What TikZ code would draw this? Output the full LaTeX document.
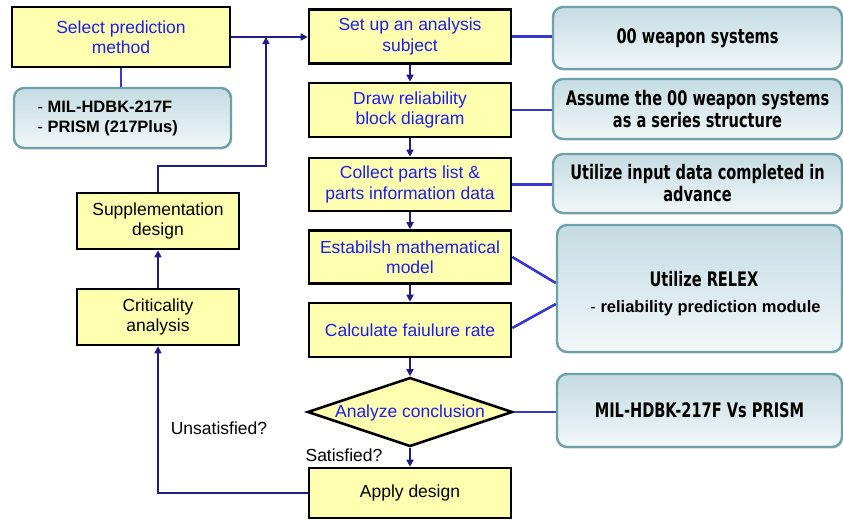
\documentclass[tikz,border=0pt]{standalone}
\usepackage{fontspec}
\setmainfont{Liberation Sans}
\newfontfamily\headfont{DejaVu Sans Condensed}[FakeStretch=0.81]
\usetikzlibrary{arrows.meta,shapes.geometric,shadows}

\definecolor{boxfill}{RGB}{255,255,176}
\definecolor{steptext}{RGB}{30,30,235}
\definecolor{flowline}{RGB}{30,30,130}
\definecolor{linkline}{RGB}{55,55,205}
\definecolor{panelborder}{RGB}{110,160,170}
\definecolor{paneltop}{RGB}{196,220,226}
\definecolor{panelbottom}{RGB}{242,247,248}

\begin{document}
\begin{tikzpicture}[x=1pt,y=-1pt,
  stepbox/.style={draw=black, line width=2.6pt, fill=boxfill, align=center,
    inner sep=0pt, font=\fontsize{17.5}{20.5}\selectfont},
  bluetext/.style={text=steptext},
  decision/.style={diamond, draw=black, line width=2.6pt, fill=boxfill, inner sep=0pt},
  panel/.style={draw=panelborder, line width=2.4pt, rounded corners=10pt,
    top color=paneltop, bottom color=panelbottom, align=center,
    font=\headfont\bfseries\fontsize{20}{22}\selectfont,
    drop shadow={shadow xshift=1pt, shadow yshift=-1.5pt, opacity=0.25}},
  flow/.style={draw=flowline, line width=1.6pt, -{Triangle[length=7pt,width=7pt]}},
  link/.style={draw=linkline, line width=2.6pt},
  note/.style={font=\fontsize{17.5}{20}\selectfont},
]
\useasboundingbox (0,0) rectangle (843,520);

% left column
\node[stepbox, bluetext, minimum width=218pt, minimum height=60pt] (sel) at (121,37) {Select prediction\\method};
\node[panel, minimum width=217pt, minimum height=60pt] (mil) at (122.5,118) {};
\node[anchor=west, align=left, font=\bfseries\fontsize{16.5}{20}\selectfont] (miltxt) at (34,118)
  {{\mdseries -} MIL-HDBK-217F\\{\mdseries -} PRISM (217Plus)};
\node[stepbox, minimum width=162pt, minimum height=56pt] (sup) at (158,221) {Supplementation\\design};
\node[stepbox, minimum width=162pt, minimum height=56pt] (crit) at (158,317) {Criticality\\analysis};

% main column
\node[stepbox, bluetext, minimum width=202pt, minimum height=54pt] (setup) at (410,36.5) {Set up an analysis\\subject};
\node[stepbox, bluetext, minimum width=202pt, minimum height=54pt] (rbd) at (410,110) {Draw reliability\\block diagram};
\node[stepbox, bluetext, minimum width=202pt, minimum height=53pt] (parts) at (410,184.5) {Collect parts list \&\\parts information data};
\node[stepbox, bluetext, minimum width=202pt, minimum height=53pt] (model) at (410,257) {Estabilsh mathematical\\model};
\node[stepbox, bluetext, minimum width=202pt, minimum height=54pt] (rate) at (410,330) {Calculate faiulure rate};
\node[decision, minimum width=205pt, minimum height=69pt] (ana) at (410,412) {};
\node[bluetext, font=\fontsize{17.5}{20}\selectfont] (anatxt) at (410,413) {Analyze conclusion};
\node[stepbox, minimum width=202pt, minimum height=50pt] (apply) at (410,493) {Apply design};

% right column
\node[panel, minimum width=289pt, minimum height=62pt] (p1) at (697.5,38) {00 weapon systems};
\node[panel, minimum width=289pt, minimum height=60pt] (p2) at (697.5,109) {Assume the 00 weapon systems\\as a series structure};
\node[panel, minimum width=289pt, minimum height=59pt] (p3) at (697.5,183.5) {Utilize input data completed in\\advance};
\node[panel, minimum width=285pt, minimum height=127pt] (p4) at (699.5,288.5) {};
\node[font=\headfont\bfseries\fontsize{20}{22}\selectfont] (p4a) at (704,279) {Utilize RELEX};
\node[font=\bfseries\fontsize{16.5}{20}\selectfont] (p4b) at (705.5,308) {{\mdseries -} reliability prediction module};
\node[panel, minimum width=285pt, minimum height=73pt] (p5) at (699.5,410.5) {MIL-HDBK-217F Vs PRISM};

% branch labels
\node[note] (unsat) at (219,428) {Unsatisfied?};
\node[note] (sat) at (344,455) {Satisfied?};

% connectors
\coordinate (merge) at (266,37);
\coordinate (bend) at (266,166);
\draw[link] (sel.south) -- (sel.south |- mil.north);
\draw[flow] (sel.east) -- (sel.east -| setup.west);
\draw[flow] (sup.north) |- (bend) -- (merge);
\draw[flow] (crit.north) -- (sup.south);
\draw[flow] (apply.west) -| (crit.south);

\draw[flow] (setup.south) -- (rbd.north);
\draw[flow] (rbd.south) -- (parts.north);
\draw[flow] (parts.south) -- (model.north);
\draw[flow] (model.south) -- (rate.north);
\draw[flow] (rate.south) -- (ana.north);
\draw[flow] (ana.south) -- (apply.north);

\draw[link] (setup.east) -- (setup.east -| p1.west);
\draw[link] (rbd.east) -- (rbd.east -| p2.west);
\draw[link] (parts.east) -- (parts.east -| p3.west);
\draw[link] (model.east) -- ([yshift=5.5pt]p4.west);
\draw[link] ([yshift=2pt]rate.east) -- ([yshift=-15.5pt]p4.west);
\draw[link] (ana.east) -- (ana.east -| p5.west);
\end{tikzpicture}
\end{document}
